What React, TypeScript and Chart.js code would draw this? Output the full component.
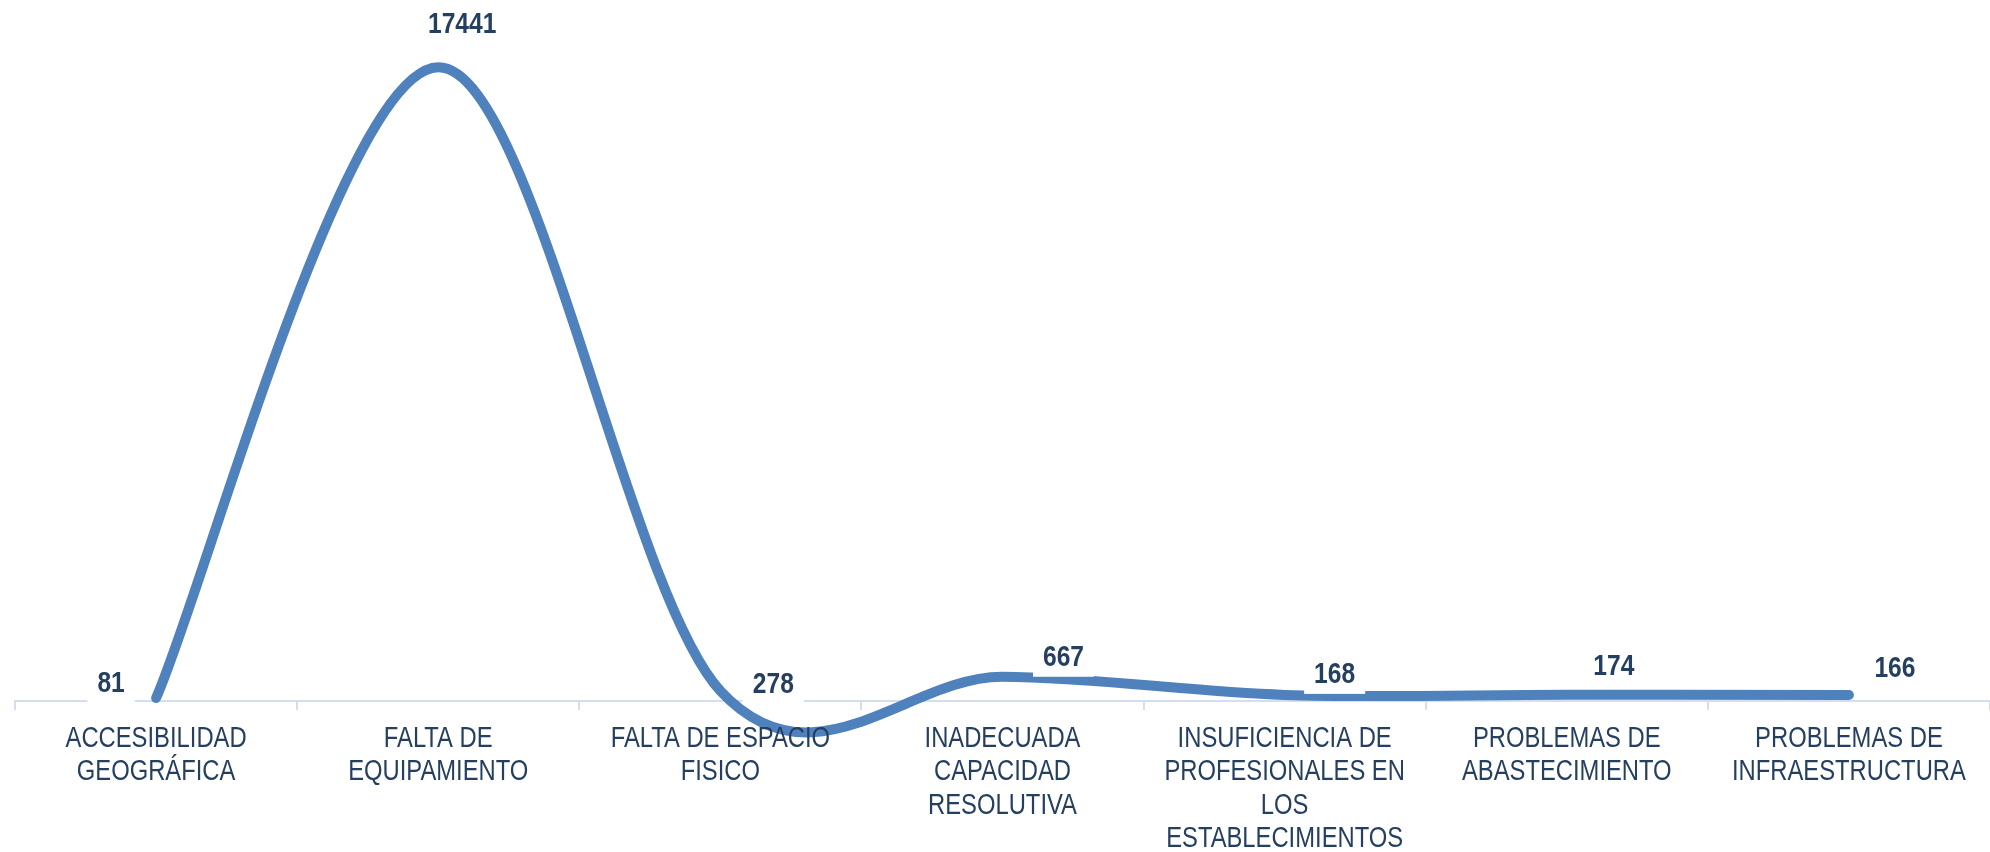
import React, { useEffect, useRef } from "react";
import { Chart, registerables } from "chart.js";

Chart.register(...registerables);

const categories: string[][] = [
  ["ACCESIBILIDAD", "GEOGRÁFICA"],
  ["FALTA DE", "EQUIPAMIENTO"],
  ["FALTA DE ESPACIO", "FISICO"],
  ["INADECUADA", "CAPACIDAD", "RESOLUTIVA"],
  ["INSUFICIENCIA DE", "PROFESIONALES EN", "LOS", "ESTABLECIMIENTOS"],
  ["PROBLEMAS DE", "ABASTECIMIENTO"],
  ["PROBLEMAS DE", "INFRAESTRUCTURA"],
];
const values: number[] = [81, 17441, 278, 667, 168, 174, 166];

// style: data label offsets (centre x, baseline y) from their points, in px
const labelOffsets: number[][] = [
  [-45, -6],
  [24, -34],
  [53, 2],
  [61, -11],
  [50, -12],
  [47, -20],
  [46, -18],
];

const FONT = "'Liberation Sans', Arial, sans-serif";
const NARROW = 0.82; // horizontal squeeze to imitate Arial Narrow
const CAT_SIZE = 29;
const CAT_LINE = 33.3;
const CAT_BASE = 46;
const VAL_SIZE = 30;
const TEXT = "#243F60";
const LINE = "#4F81BD";
const AXIS = "#D3DFF1";

// Excel-style smoothing: Bezier control points at 1/6 of the neighbour chord
const excelSmooth = {
  id: "excelSmooth",
  beforeDatasetDraw(chart: any, args: any) {
    const meta = args.meta;
    const line = meta.dataset;
    if (line && line.updateControlPoints) line.updateControlPoints(chart.chartArea, meta.iScale.axis);
    const pts = meta.data;
    const n = pts.length;
    for (let i = 0; i < n; i++) {
      const p = pts[i];
      const prev = pts[Math.max(0, i - 1)];
      const next = pts[Math.min(n - 1, i + 1)];
      const tx = (next.x - prev.x) / 6;
      const ty = (next.y - prev.y) / 6;
      p.cp1x = p.x - tx;
      p.cp1y = p.y - ty;
      p.cp2x = p.x + tx;
      p.cp2y = p.y + ty;
    }
  },
};

const labelsPlugin = {
  id: "labelsPlugin",
  afterDatasetsDraw(chart: any) {
    const ctx = chart.ctx;
    const xs = chart.scales.x;
    const base = chart.chartArea.bottom;
    ctx.save();
    ctx.textAlign = "center";
    ctx.textBaseline = "alphabetic";
    // category labels
    ctx.fillStyle = TEXT;
    ctx.font = `${CAT_SIZE}px ${FONT}`;
    categories.forEach((lines, i) => {
      const x = xs.getPixelForTick(i);
      lines.forEach((ln, k) => {
        ctx.save();
        ctx.translate(x, base + CAT_BASE + k * CAT_LINE);
        ctx.scale(NARROW, 1);
        ctx.fillText(ln, 0, 0);
        ctx.restore();
      });
    });
    // value labels with white boxes
    const meta = chart.getDatasetMeta(0);
    ctx.font = `bold ${VAL_SIZE}px ${FONT}`;
    meta.data.forEach((pt: any, i: number) => {
      const x = pt.x + labelOffsets[i][0];
      const y = pt.y + labelOffsets[i][1];
      const text = String(values[i]);
      const w = ctx.measureText(text).width * NARROW + 20;
      ctx.fillStyle = "#ffffff";
      ctx.fillRect(x - w / 2, y - 31, w, 42);
      ctx.fillStyle = TEXT;
      ctx.save();
      ctx.translate(x, y);
      ctx.scale(NARROW, 1);
      ctx.fillText(text, 0, 0);
      ctx.restore();
    });
    ctx.restore();
  },
};

export default function App() {
  const ref = useRef<HTMLCanvasElement>(null);
  useEffect(() => {
    if (!ref.current) return;
    const chart = new Chart(ref.current, {
      type: "line",
      data: {
        labels: categories.map((c) => c.join(" ")),
        datasets: [
          {
            data: values,
            borderColor: LINE,
            borderWidth: 10,
            borderCapStyle: "round",
            borderJoinStyle: "round",
            tension: 0.5,
            pointRadius: 0,
            fill: false,
            clip: false as any,
          },
        ],
      },
      options: {
        responsive: false,
        animation: false,
        devicePixelRatio: 1,
        layout: { padding: { left: 15, right: 0, top: 47, bottom: 0 } },
        plugins: { legend: { display: false }, tooltip: { enabled: false } },
        scales: {
          x: {
            type: "category",
            offset: true,
            grid: {
              display: true,
              drawOnChartArea: false,
              drawTicks: true,
              tickLength: 9,
              color: AXIS,
              lineWidth: 2,
              offset: true,
            },
            border: { display: true, color: AXIS, width: 2 },
            ticks: { display: false, autoSkip: false, maxRotation: 0, minRotation: 0 },
            afterFit: (scale: any) => {
              scale.height = 151;
            },
          },
          y: { display: false, min: 0, max: 18000 },
        },
      },
      plugins: [excelSmooth, labelsPlugin],
    });
    return () => chart.destroy();
  }, []);
  return (
    <div style={{ position: "fixed", left: 0, top: 0, width: 1990, height: 852, background: "#fff" }}>
      <canvas ref={ref} width={1990} height={852} />
    </div>
  );
}
